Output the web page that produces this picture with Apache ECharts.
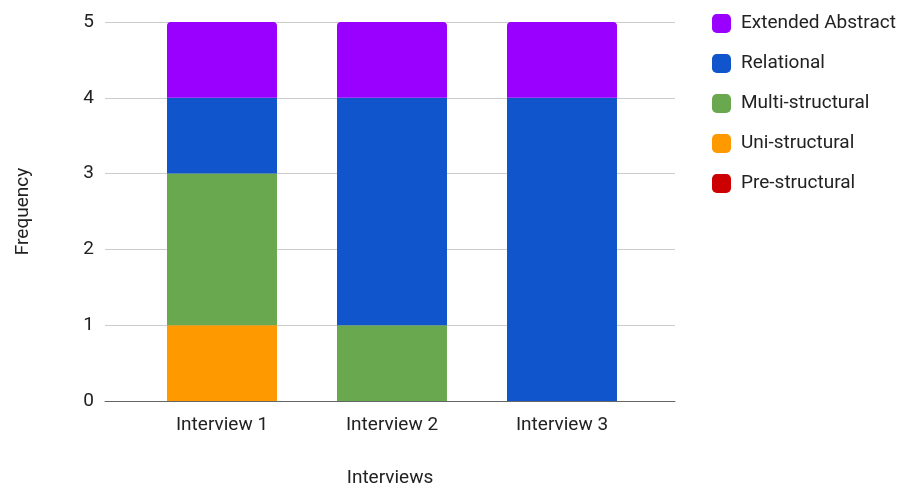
<!DOCTYPE html>
<html>
<head>
<meta charset="utf-8">
<script src="https://cdn.jsdelivr.net/npm/echarts@6/dist/echarts.min.js"></script>
<style>
  html, body { margin: 0; padding: 0; background: #fff; }
  #chart { width: 903px; height: 486px; }
</style>
</head>
<body>
<div id="chart"></div>
<script>
// Categories and per-level frequencies (stacked bottom to top)
const categories = ['Interview 1', 'Interview 2', 'Interview 3'];
const preStructural = [0, 0, 0];
const uniStructural = [1, 0, 0];
const multiStructural = [2, 1, 0];
const relational = [1, 3, 4];
const extendedAbstract = [1, 1, 1];
const yTicks = [0, 1, 2, 3, 4, 5];

const FONT = 'Roboto, "Noto Sans", sans-serif';
const TEXT = '#222';
const FS = 19;

function bar(name, data, color, radius) {
  return {
    name: name,
    type: 'bar',
    stack: 'total',
    xAxisIndex: 1,
    yAxisIndex: 1,
    data: data,
    barWidth: '64.7%',
    itemStyle: { color: color, borderRadius: radius || 0 },
    emphasis: { disabled: true }
  };
}

const yMin = yTicks[0];
const yMax = yTicks[yTicks.length - 1];

const chart = echarts.init(document.getElementById('chart'), null, { renderer: 'canvas' });
chart.setOption({
  animation: false,
  textStyle: { fontFamily: FONT },
  // grid 0: gridlines, baseline and axis titles; grid 1: the bars, inset from the frame
  grid: [
    { left: 105, width: 570, top: 22, height: 379, outerBoundsMode: 'none', containLabel: false },
    { left: 137, width: 510, top: 22, height: 379, outerBoundsMode: 'none', containLabel: false }
  ],
  legend: {
    orient: 'vertical',
    left: 707,
    top: 9,
    itemWidth: 19,
    itemHeight: 19,
    itemGap: 21,
    icon: 'roundRect',
    textStyle: { fontSize: FS, color: TEXT, fontFamily: FONT, padding: [0, 0, 0, 5] },
    data: ['Extended Abstract', 'Relational', 'Multi-structural', 'Uni-structural', 'Pre-structural']
  },
  xAxis: [
    {
      gridIndex: 0,
      type: 'value',
      min: 0,
      max: 1,
      name: 'Interviews',
      nameLocation: 'middle',
      nameGap: 68,
      nameTextStyle: { fontSize: FS, color: TEXT, fontFamily: FONT },
      axisLine: { show: true, lineStyle: { color: '#666', width: 1 } },
      axisTick: { show: false },
      axisLabel: { show: false },
      splitLine: { show: false }
    },
    {
      gridIndex: 1,
      type: 'category',
      data: categories,
      axisLine: { show: false },
      axisTick: { show: false },
      axisLabel: { fontSize: FS, color: TEXT, margin: 14.5, fontFamily: FONT }
    }
  ],
  yAxis: [
    {
      gridIndex: 0,
      type: 'value',
      min: yMin,
      max: yMax,
      interval: 1,
      name: 'Frequency',
      nameLocation: 'middle',
      nameGap: 72,
      nameRotate: 90,
      nameTextStyle: { fontSize: FS, color: TEXT, fontFamily: FONT },
      axisLine: { show: false },
      axisTick: { show: false },
      axisLabel: { fontSize: FS, color: TEXT, margin: 11, fontFamily: FONT },
      splitLine: { lineStyle: { color: '#ccc', width: 1 } }
    },
    {
      gridIndex: 1,
      type: 'value',
      min: yMin,
      max: yMax,
      interval: 1,
      axisLine: { show: false },
      axisTick: { show: false },
      axisLabel: { show: false },
      splitLine: { show: false }
    }
  ],
  series: [
    bar('Pre-structural', preStructural, '#cc0000'),
    bar('Uni-structural', uniStructural, '#ff9900'),
    bar('Multi-structural', multiStructural, '#6aa84f'),
    bar('Relational', relational, '#1155cc'),
    bar('Extended Abstract', extendedAbstract, '#9900ff', [4, 4, 0, 0])
  ]
});
</script>
</body>
</html>
